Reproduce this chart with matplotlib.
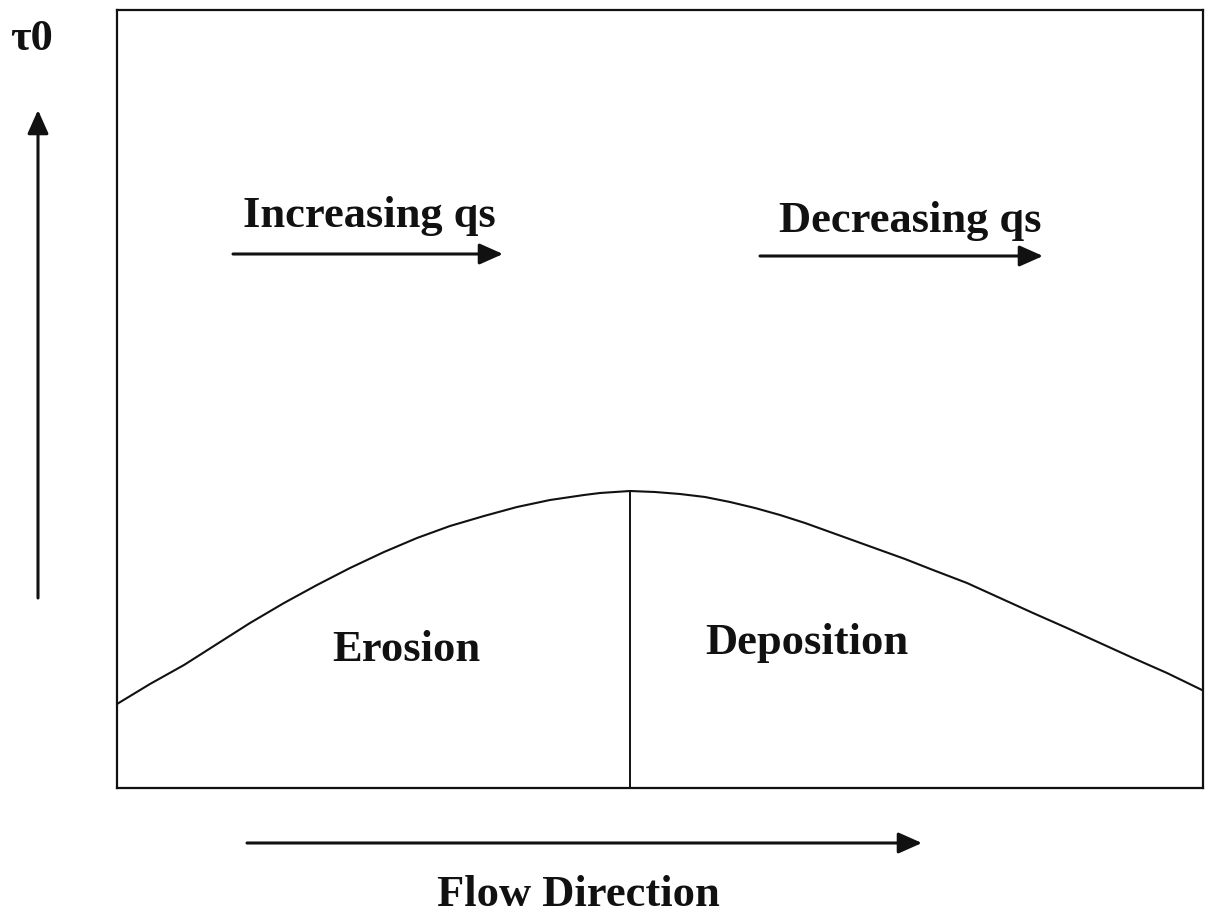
import matplotlib
matplotlib.use("Agg")
import matplotlib.pyplot as plt
from matplotlib.patches import FancyArrowPatch

# ---- data ----
# distance along flow (box units, 0..1086) and bed shear stress tau0 (box units, 0..778)
distance = [0, 33, 67, 100, 133, 167, 200, 233, 267, 300, 333, 367, 400, 433,
            467, 483, 513, 538, 563, 588, 613, 638, 663, 688, 713, 738, 763,
            788, 816, 850, 883, 916, 950, 983, 1016, 1050, 1085]
tau0 = [84, 104, 123, 144, 165, 185, 203, 220, 236, 250, 262, 272, 281, 288,
        293, 295, 297, 296, 294, 291, 286, 280, 273, 265, 256, 247, 238,
        229, 218, 205, 190, 175, 160, 145, 130, 115, 98]
peak_distance = 513
peak_tau = 297
region_labels = ["Erosion", "Deposition"]
trend_labels = ["Increasing qs", "Decreasing qs"]
x_label = "Flow Direction"
y_label = "τ0"

W, H = 1205, 916
fig = plt.figure(figsize=(W / 100, H / 100), dpi=100)
fig.patch.set_facecolor("white")

def fx(px):
    return px / W

def fy(py):
    return 1 - py / H

left, right, top, bottom = 117, 1203, 10, 788
ax = fig.add_axes([fx(left), fy(bottom), (right - left) / W, (bottom - top) / H])
ax.set_xlim(0, right - left)
ax.set_ylim(0, bottom - top)
ax.set_xticks([])
ax.set_yticks([])
for s in ax.spines.values():
    s.set_linewidth(1.6)
    s.set_color("#111111")

ax.plot(distance, tau0, color="#111111", lw=1.5, solid_joinstyle="round",
        solid_capstyle="round")
ax.plot([peak_distance, peak_distance], [0, peak_tau], color="#111111", lw=1.4)

font = dict(family=["Liberation Serif", "DejaVu Serif"], weight="bold", size=32, color="#111111")

fig.text(fx(243), fy(227), trend_labels[0], ha="left", va="baseline", **font)
fig.text(fx(779), fy(232), trend_labels[1], ha="left", va="baseline", **font)
fig.text(fx(332), fy(661), region_labels[0], ha="left", va="baseline", **font)
fig.text(fx(705), fy(654), region_labels[1], ha="left", va="baseline", **font)
fig.text(fx(437), fy(906), x_label, ha="left", va="baseline", **font)
fig.text(fx(10), fy(50), y_label, ha="left", va="baseline", **font)

def arrow(x0, y0, x1, y1):
    a = FancyArrowPatch((fx(x0), fy(y0)), (fx(x1), fy(y1)), transform=fig.transFigure,
                        arrowstyle="-|>,head_length=0.9,head_width=0.4", mutation_scale=16,
                        lw=2.2, color="#111111", shrinkA=0, shrinkB=0)
    fig.add_artist(a)

arrow(233, 254, 503, 254)
arrow(760, 256, 1043, 256)
arrow(247, 843, 922, 843)
arrow(38, 598, 38, 110)

fig.savefig("out.png", dpi=100, facecolor="white")
